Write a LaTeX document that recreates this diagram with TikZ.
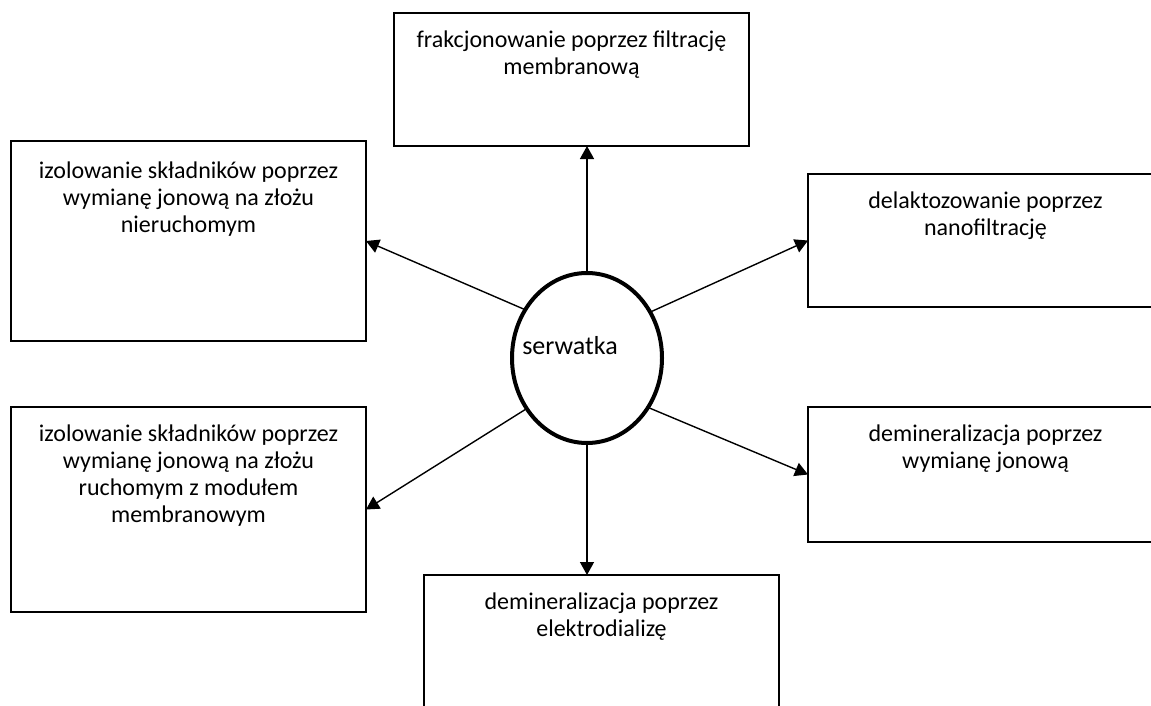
\documentclass[tikz,border=0pt]{standalone}
\usepackage{fontspec}
\setmainfont{Carlito}
\usetikzlibrary{arrows.meta,shapes.geometric}
\begin{document}
\begin{tikzpicture}[x=0.5pt,y=-0.5pt,
  box/.style={draw,line width=0.9pt,minimum width=177.5pt,inner sep=0pt,outer sep=0pt},
  txt/.style={anchor=north,align=center,inner sep=0pt,font=\fontsize{12pt}{13.5pt}\selectfont,yshift=-8.5pt},
  arr/.style={line width=0.7pt,-{Triangle[length=6.5pt,width=7pt]}},
  whey/.style={draw,ellipse,line width=2pt,minimum width=75pt,minimum height=85pt,inner sep=0pt,outer sep=0pt}
]
\useasboundingbox (0,0) rectangle (1151,706);
% boxes
\node[box,minimum height=66.5pt] (top) at (571.5,79.5) {};
\node[box,minimum height=100pt] (tl) at (188.5,241) {};
\node[box,minimum height=66.5pt] (r) at (985.5,240.5) {};
\node[box,minimum height=102.5pt] (bl) at (188.5,509.5) {};
\node[box,minimum height=67.5pt] (br) at (985.5,474.5) {};
\node[box,minimum height=72.5pt] (b) at (601.5,647.5) {};
% texts
\node[txt] (topt) at (top.north) {frakcjonowanie poprzez filtrację\\membranową};
\node[txt,yshift=-1.5pt] (tlt) at (tl.north) {izolowanie składników poprzez\\wymianę jonową na złożu\\nieruchomym};
\node[txt] (rt) at (r.north) {delaktozowanie poprzez\\nanofiltrację};
\node[txt] (blt) at (bl.north) {izolowanie składników poprzez\\wymianę jonową na złożu\\ruchomym z modułem\\membranowym};
\node[txt] (brt) at (br.north) {demineralizacja poprzez\\wymianę jonową};
\node[txt] (bt) at (b.north) {demineralizacja poprzez\\elektrodializę};
% centre
\node[whey] (w) at (587,358) {};
\node[inner sep=0pt,font=\fontsize{13pt}{15pt}\selectfont] (wt) at (570,346) {serwatka};
% arrows
\draw[arr] (w.north) -- (w.north |- top.south);
\draw[arr] (w.142) -- (tl.east);
\draw[arr] (w.36) -- (r.west);
\draw[arr] (w.220) -- (bl.east);
\draw[arr] (w.321) -- (br.west);
\draw[arr] (w.south) -- (w.south |- b.north);
\end{tikzpicture}
\end{document}
